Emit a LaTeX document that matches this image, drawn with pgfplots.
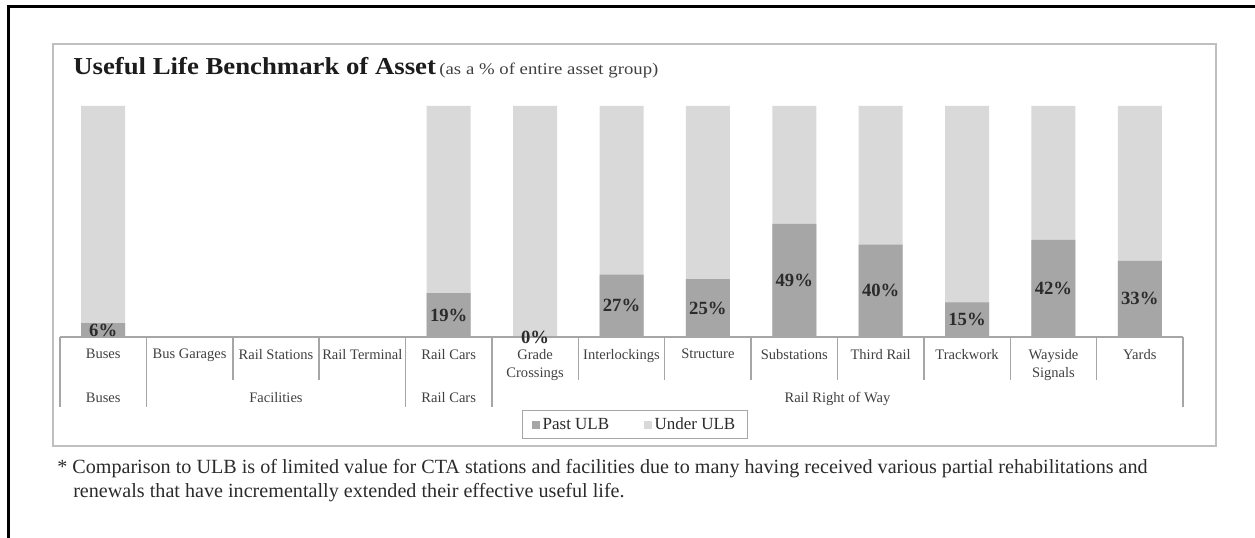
\documentclass[border=0pt]{standalone}
\usepackage{fontspec}
\setmainfont{Liberation Serif}
\newfontfamily\widefont[FakeStretch=1.1]{Liberation Serif}
\newfontfamily\subfont[FakeStretch=1.15]{Liberation Serif}
\usepackage{pgfplots}
\pgfplotsset{compat=1.18}
\definecolor{pastc}{HTML}{A6A6A6}
\definecolor{underc}{HTML}{D9D9D9}
\definecolor{divc}{HTML}{A6A6A6}
\definecolor{boxc}{HTML}{BFBFBF}
\definecolor{labc}{HTML}{404040}
\definecolor{titlec}{HTML}{1C1C1C}
\definecolor{valc}{HTML}{2B2B2B}
\newcommand{\fs}[2]{\fontsize{#1}{#2}\selectfont}
\begin{document}
\begin{tikzpicture}
\begin{scope}[x=0.75pt,y=0.75pt]
\useasboundingbox (0,0) rectangle (1255,538);
\draw[line width=2.25pt] (8,0) -- (8,531) -- (1255,531);
\draw[boxc, line width=1.1pt] (53,92) rectangle (1216,494);
\node[anchor=base west, inner sep=0pt, text=titlec] at (73,463) {{\widefont\bfseries\fs{18.25}{20}Useful Life Benchmark of Asset} {\subfont\fs{12.25}{14}\color{labc}(as a \% of entire asset group)}};
\node[anchor=base west, inner sep=0pt, text=valc] at (57,64) {\fs{15.1}{18}* Comparison to ULB is of limited value for CTA stations and facilities due to many having received various partial rehabilitations and};
\node[anchor=base west, inner sep=0pt, text=valc] at (73,40) {\fs{15.1}{18}renewals that have incrementally extended their effective useful life.};
\end{scope}
\begin{axis}[
  at={(45pt,150.75pt)}, anchor=south west,
  scale only axis, width=842.25pt, height=173.25pt,
  xmin=-0.5, xmax=12.5, ymin=0, ymax=100,
  axis lines*=left, axis line style={draw=none},
  ytick=\empty,
  xtick={0,...,12},
  xticklabels={Buses,Bus Garages,Rail Stations,Rail Terminal,Rail Cars,{Grade\\Crossings},Interlockings,Structure,Substations,Third Rail,Trackwork,{Wayside\\Signals},Yards},
  major tick length=0pt,
  xticklabel style={anchor=north, inner sep=0pt, yshift=-9pt, align=center, font=\fs{10.9}{13.5}, text=labc},
  clip=false,
  /pgf/number format/assume math mode=true,
  ybar, bar width=33pt,
  legend style={at={(0.512,-0.379)}, anchor=center, legend columns=2, draw=divc, fill=white, font=\fs{12.75}{15}, text=valc, line width=0.8pt, inner xsep=7pt, inner ysep=3.5pt, /tikz/every even column/.append style={column sep=24pt}},
]
\addlegendimage{legend image code/.code={\fill[pastc] (0pt,-2.6pt) rectangle (5.2pt,2.6pt);}}
\addlegendentry{Past ULB}
\addlegendimage{legend image code/.code={\fill[underc] (0pt,-2.6pt) rectangle (5.2pt,2.6pt);}}
\addlegendentry{Under ULB}
\addplot[fill=underc, draw=none, bar shift=0pt, forget plot] coordinates {(0,100)(4,100)(5,100)(6,100)(7,100)(8,100)(9,100)(10,100)(11,100)(12,100)};
\addplot[fill=pastc, draw=none, bar shift=0pt, forget plot, point meta=y,
  nodes near coords={\pgfmathprintnumber{\pgfplotspointmeta}\%},
  visualization depends on={y \as \rawy},
  every node near coord/.append style={anchor=center, font=\bfseries\fs{14}{15}, text=valc, inner sep=0pt, shift={(axis direction cs:0,-\rawy/2)}}]
  coordinates {(0,6)(4,19)(5,0)(6,27)(7,25)(8,49)(9,40)(10,15)(11,42)(12,33)};
\draw[divc, line width=1.1pt] (axis cs:-0.5,0) -- (axis cs:12.5,0);
\pgfplotsinvokeforeach{-0.5,0.5,3.5,4.5,12.5}{\draw[divc, line width=1.1pt] (axis cs:#1,0) -- ++(0pt,-52.5pt);}
\pgfplotsinvokeforeach{1.5,2.5,5.5,6.5,7.5,8.5,9.5,10.5,11.5}{\draw[divc, line width=1.1pt] (axis cs:#1,0) -- ++(0pt,-32.25pt);}
\node[anchor=base, yshift=-49.5pt, font=\fs{10.9}{13.5}, text=labc] at (axis cs:0,0) {Buses};
\node[anchor=base, yshift=-49.5pt, font=\fs{10.9}{13.5}, text=labc] at (axis cs:2,0) {Facilities};
\node[anchor=base, yshift=-49.5pt, font=\fs{10.9}{13.5}, text=labc] at (axis cs:4,0) {Rail Cars};
\node[anchor=base, yshift=-49.5pt, font=\fs{10.9}{13.5}, text=labc] at (axis cs:8.5,0) {Rail Right of Way};
\end{axis}
\end{tikzpicture}
\end{document}
